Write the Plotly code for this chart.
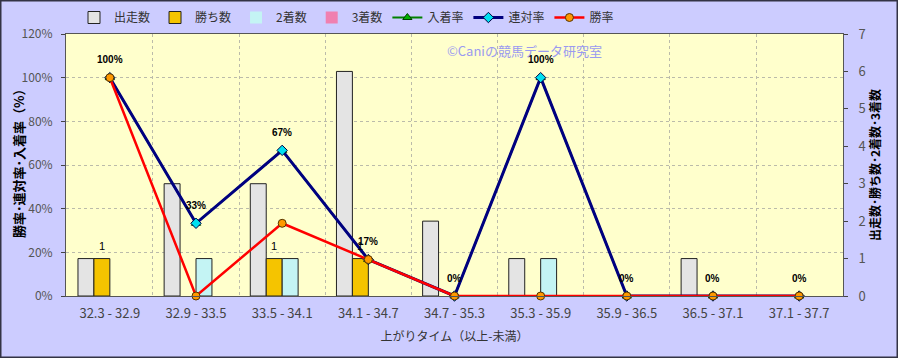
import plotly.graph_objects as go

categories = ["32.3 - 32.9", "32.9 - 33.5", "33.5 - 34.1", "34.1 - 34.7", "34.7 - 35.3",
              "35.3 - 35.9", "35.9 - 36.5", "36.5 - 37.1", "37.1 - 37.7"]
runs = [1, 3, 3, 6, 2, 1, 0, 1, 0]          # 出走数
wins = [1, 0, 1, 1, 0, 0, 0, 0, 0]          # 勝ち数
seconds = [0, 1, 1, 0, 0, 1, 0, 0, 0]       # 2着数
thirds = [0, 0, 0, 0, 0, 0, 0, 0, 0]        # 3着数
win_rate = [100, 0, 33.3, 16.7, 0, 0, 0, 0, 0]        # 勝率
quinella_rate = [100, 33.3, 66.7, 16.7, 0, 100, 0, 0, 0]  # 連対率
place_rate = [100, 33.3, 66.7, 16.7, 0, 100, 0, 0, 0]     # 入着率

W, H = 898, 358
ML, MR, MT, MB = 66, 55, 34, 62
PW, PH = W - ML - MR, H - MT - MB
BARGAP = 0.26

FONT = "Noto Sans CJK JP"
fig = go.Figure()


def bar_line(vals):
    return dict(color="#222222", width=[1 if v else 0 for v in vals])


fig.add_trace(go.Bar(name="出走数", x=categories, y=runs, yaxis="y",
                     marker=dict(color="#E4E4E4", line=bar_line(runs))))
fig.add_trace(go.Bar(name="勝ち数", x=categories, y=wins, yaxis="y",
                     marker=dict(color="#F5C400", line=bar_line(wins))))
fig.add_trace(go.Bar(name="2着数", x=categories, y=seconds, yaxis="y",
                     marker=dict(color="#C4F4F4", line=bar_line(seconds))))
fig.add_trace(go.Bar(name="3着数", x=categories, y=thirds, yaxis="y",
                     marker=dict(color="#F080B0", line=bar_line(thirds))))

fig.add_trace(go.Scatter(name="入着率", x=categories, y=place_rate, yaxis="y2",
                         mode="lines+markers", line=dict(color="#008000", width=2),
                         marker=dict(symbol="triangle-up", size=8, color="#00B000",
                                     line=dict(color="#004000", width=1)), cliponaxis=False))
fig.add_trace(go.Scatter(name="連対率", x=categories, y=quinella_rate, yaxis="y2",
                         mode="lines+markers", line=dict(color="#000080", width=3),
                         marker=dict(symbol="diamond", size=8, color="#00E0F0",
                                     line=dict(color="#000040", width=1)),
                         cliponaxis=False))
fig.add_trace(go.Scatter(name="勝率", x=categories, y=win_rate, yaxis="y2",
                         mode="lines+markers", line=dict(color="#FF0000", width=2.5),
                         marker=dict(symbol="circle", size=8, color="#FF9900",
                                     line=dict(color="#553300", width=1)), cliponaxis=False))

# data labels
bar_w = PW / len(categories) * (1 - BARGAP) / 4
for c, v in zip(categories, quinella_rate):
    fig.add_annotation(x=c, y=v, xref="x", yref="y2", text=f"<b>{round(v)}%</b>",
                       showarrow=False, yshift=18,
                       font=dict(size=10, color="#000000", family="Liberation Sans"))
for c, v in zip(categories, wins):
    if v:
        fig.add_annotation(x=c, y=v, xref="x", yref="y", text=str(v), xshift=-bar_w / 2,
                           showarrow=False, yshift=13,
                           font=dict(size=11, color="#000000", family="Liberation Sans"))

fig.update_layout(
    width=W, height=H,
    margin=dict(l=ML, r=MR, t=MT, b=MB, autoexpand=False),
    paper_bgcolor="#CCCCFF", plot_bgcolor="#FFFFCC",
    font=dict(family=FONT, size=12, color="#333333"),
    barmode="group", bargap=BARGAP, bargroupgap=0,
    showlegend=True,
    legend=dict(orientation="h", xref="container", yref="container",
                x=74 / W, y=1 - 3 / H, xanchor="left", yanchor="top",
                bgcolor="rgba(0,0,0,0)", font=dict(size=12, color="#333333"),
                itemwidth=30, traceorder="normal"),
    xaxis=dict(type="category", tickson="boundaries", showgrid=True, gridcolor="#BBBBAA",
               griddash="dot", gridwidth=1, showline=True, linecolor="#555555", ticks="",
               ticklabelstandoff=5, automargin=False,
               title=dict(text="上がりタイム（以上-未満）", font=dict(size=12, color="#333333"), standoff=12),
               tickfont=dict(size=13, color="#444444"), mirror=True),
    yaxis=dict(side="right", range=[0, 7], dtick=1, showgrid=False, zeroline=False,
               showline=True, linecolor="#555555", ticks="outside", ticklen=4,
               ticklabelstandoff=8, automargin=False,
               tickfont=dict(size=13, color="#555555"),
               title=dict(text="<b>出走数･勝ち数･2着数･3着数</b>", font=dict(size=12, color="#000000"), standoff=6)),
    yaxis2=dict(side="left", overlaying="y", range=[0, 120], dtick=20, ticksuffix="%",
                showgrid=True, gridcolor="#BBBBAA", griddash="dot", zeroline=False,
                showline=True, linecolor="#555555", ticks="outside", ticklen=4,
                ticklabelstandoff=6, automargin=False,
                tickfont=dict(size=12, color="#555555")),
)

# left axis title placed explicitly
fig.add_annotation(text="<b>勝率･連対率･入着率（%）</b>", xref="paper", yref="paper",
                   x=(18 - ML) / PW, y=(H - MB - 160) / PH, textangle=-90,
                   xanchor="center", yanchor="middle", showarrow=False,
                   font=dict(size=13, color="#000000", family=FONT))

fig.add_annotation(text="©Caniの競馬データ研究室", xref="paper", yref="paper",
                   x=(445 - ML) / PW, y=(H - MB - 50) / PH, xanchor="left", yanchor="middle",
                   showarrow=False, font=dict(size=13, color="#9A9AF0", family=FONT))

fig.add_shape(type="rect", xref="paper", yref="paper",
              x0=-ML / PW + 0.5 / PW, x1=1 + MR / PW - 0.5 / PW,
              y0=-MB / PH + 0.5 / PH, y1=1 + MT / PH - 0.5 / PH,
              line=dict(color="#333344", width=2), layer="above")

fig.write_html("out.html", config={"displayModeBar": False},
               post_script="document.body.style.margin='0';document.body.style.overflow='hidden';")
